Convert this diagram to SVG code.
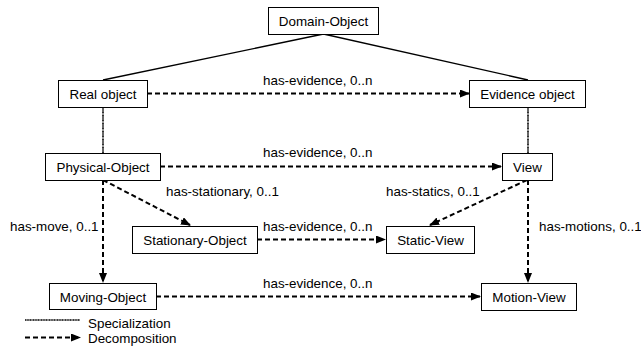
<svg xmlns="http://www.w3.org/2000/svg" width="641" height="348" viewBox="0 0 641 348">
<style>
.box{fill:#fff;stroke:#000;stroke-width:1}
.t{font-family:"Liberation Sans",Arial,sans-serif;font-size:13.4px;fill:#000}
.c{text-anchor:middle}
.spec{fill:none;stroke:#000;stroke-width:1.3}
.dot{fill:none;stroke:#000;stroke-width:1.6;stroke-dasharray:1.2 0.4}
.dec{fill:none;stroke:#000;stroke-width:2;stroke-dasharray:5 3;marker-end:url(#ah)}
</style>
<defs>
<marker id="ah" markerUnits="userSpaceOnUse" markerWidth="10" markerHeight="8" refX="9" refY="4" orient="auto">
<path d="M0,0 L10,4 L0,8 z" fill="#000"/>
</marker>
</defs>
<rect width="641" height="348" fill="#fff"/>
<g id="connectors">
<line class="spec" x1="323.5" y1="34" x2="103" y2="80"/>
<line class="spec" x1="323.5" y1="34" x2="528" y2="80"/>
<line class="dot" x1="103" y1="107" x2="103" y2="153"/>
<line class="dot" x1="528" y1="107" x2="528" y2="153"/>
<line class="dec" x1="147" y1="93.5" x2="469" y2="93.5"/>
<line class="dec" x1="160" y1="166.5" x2="501" y2="166.5"/>
<line class="dec" x1="103" y1="180" x2="190" y2="225"/>
<line class="dec" x1="103" y1="180" x2="103" y2="282"/>
<line class="dec" x1="257" y1="239.5" x2="385" y2="239.5"/>
<line class="dec" x1="527" y1="180" x2="430" y2="225"/>
<line class="dec" x1="528" y1="180" x2="528" y2="282"/>
<line class="dec" x1="156" y1="296.5" x2="480" y2="296.5"/>
<text class="t" x="263" y="85">has-evidence, 0..n</text>
<text class="t" x="263" y="157">has-evidence, 0..n</text>
<text class="t" x="166" y="196">has-stationary, 0..1</text>
<text class="t" x="10" y="231">has-move, 0..1</text>
<text class="t" x="263" y="231">has-evidence, 0..n</text>
<text class="t" x="386" y="196">has-statics, 0..1</text>
<text class="t" x="539" y="231">has-motions, 0..1</text>
<text class="t" x="263" y="288">has-evidence, 0..n</text>
</g>
<g id="domain-object"><rect class="box" x="268.5" y="7.5" width="110" height="27"/><text class="t c" x="323.5" y="26">Domain-Object</text></g>
<g id="real-object"><rect class="box" x="58.5" y="80.5" width="89" height="27"/><text class="t c" x="103" y="99">Real object</text></g>
<g id="evidence-object"><rect class="box" x="469.5" y="80.5" width="116" height="27"/><text class="t c" x="527.5" y="99">Evidence object</text></g>
<g id="physical-object"><rect class="box" x="45.5" y="153.5" width="115" height="27"/><text class="t c" x="103" y="172">Physical-Object</text></g>
<g id="view"><rect class="box" x="502.5" y="153.5" width="50" height="27"/><text class="t c" x="527.5" y="172">View</text></g>
<g id="stationary-object"><rect class="box" x="132.5" y="226.5" width="125" height="27"/><text class="t c" x="195" y="245">Stationary-Object</text></g>
<g id="static-view"><rect class="box" x="386.5" y="226.5" width="88" height="27"/><text class="t c" x="430.5" y="245">Static-View</text></g>
<g id="moving-object"><rect class="box" x="49.5" y="283.5" width="107" height="26"/><text class="t c" x="103" y="301.5">Moving-Object</text></g>
<g id="motion-view"><rect class="box" x="481.5" y="283.5" width="95" height="27"/><text class="t c" x="529" y="302">Motion-View</text></g>
<g id="legend">
<line class="dot" x1="25" y1="320" x2="80" y2="320"/>
<text class="t" x="88" y="328">Specialization</text>
<line class="dec" x1="25" y1="337.5" x2="80" y2="337.5"/>
<text class="t" x="88" y="343">Decomposition</text>
</g>
</svg>
